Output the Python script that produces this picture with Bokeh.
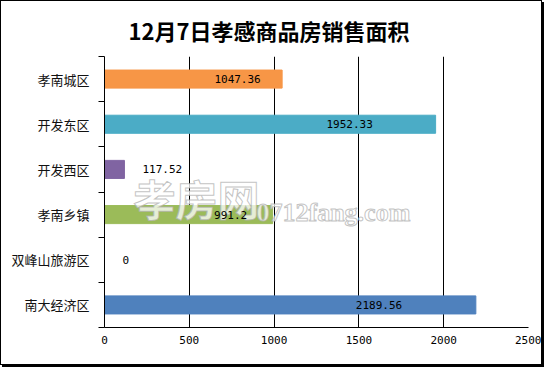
from bokeh.plotting import figure
from bokeh.models import ColumnDataSource, FixedTicker, Label
from bokeh.embed import file_html
from bokeh.resources import INLINE
from bokeh.core.properties import value

title_text = "12月7日孝感商品房销售面积"
categories = ["孝南城区", "开发东区", "开发西区", "孝南乡镇", "双峰山旅游区", "南大经济区"]
areas = [1047.36, 1952.33, 117.52, 991.2, 0, 2189.56]
area_labels = ["1047.36", "1952.33", "117.52", "991.2", "0", "2189.56"]
colors = ["#F79646", "#4BACC6", "#8064A2", "#9BBB59", "#C0504D", "#4F81BD"]
x_ticks = [0, 500, 1000, 1500, 2000, 2500]

n = len(categories)
ys = [n - i - 0.5 for i in range(n)]

src = ColumnDataSource(dict(y=ys, v=areas, c=colors))

p = figure(width=542, height=365, output_backend="svg", toolbar_location=None,
           x_range=(0, 2500), y_range=(0, n),
           min_border_left=103, min_border_right=15, min_border_top=54, min_border_bottom=39)
p.styles = {"border": "1px solid black", "box-shadow": "2px 2px 0 #000"}
p.outline_line_color = None
p.background_fill_color = "white"

p.hbar(y="y", left=0, right="v", height=0.4, color="c", source=src)

# title
p.title.text = title_text
p.title.align = "left"
p.title.offset = 24
p.title.standoff = 21
p.title.text_font = "Noto Sans CJK SC"
p.title.text_font_size = "22px"
p.title.text_font_style = "bold"
p.title.text_color = "black"

# watermark
wm1 = Label(x=29, y=100, x_units="screen", y_units="screen", text="孝房网",
            text_font="Noto Sans CJK SC", text_font_size="42px", text_font_style="bold",
            text_color="white", text_alpha=0.75, text_outline_color="#b0b0b0")
wm2 = Label(x=152, y=115, x_units="screen", y_units="screen", text="0712fang.com",
            text_baseline="alphabetic",
            text_font="Liberation Serif", text_font_size="26px", text_font_style="bold",
            text_color="white", text_alpha=0.75, text_outline_color="#b0b0b0")
p.add_layout(wm1)
p.add_layout(wm2)

# value labels: inside the long bars, just past the end of the short ones
inside = [a > 500 for a in areas]
in_src = ColumnDataSource(dict(
    x=[a * 0.73 + 20 for a, f in zip(areas, inside) if f],
    y=[y for y, f in zip(ys, inside) if f],
    t=[t for t, f in zip(area_labels, inside) if f]))
out_src = ColumnDataSource(dict(
    x=[a for a, f in zip(areas, inside) if not f],
    y=[y for y, f in zip(ys, inside) if not f],
    t=[t for t, f in zip(area_labels, inside) if not f]))

t1 = p.text(x="x", y="y", text="t", source=in_src, text_align="center", text_baseline="middle",
            text_font=value("DejaVu Sans Mono"), text_font_size="11px", text_color="black")
t2 = p.text(x="x", y="y", text="t", source=out_src, text_align="left", text_baseline="middle",
            x_offset=18, text_font=value("DejaVu Sans Mono"), text_font_size="11px", text_color="black")
t1.level = "overlay"
t2.level = "overlay"

# axes
p.xaxis.ticker = FixedTicker(ticks=x_ticks)
p.xaxis.axis_line_color = "black"
p.xaxis.major_tick_out = 0
p.xaxis.major_tick_in = 0
p.xaxis.minor_tick_line_color = None
p.xaxis.major_label_text_font = "DejaVu Sans Mono"
p.xaxis.major_label_text_font_size = "11px"
p.xaxis.major_label_text_color = "black"
p.xaxis.major_label_standoff = 8

p.yaxis.ticker = FixedTicker(ticks=ys, minor_ticks=list(range(n + 1)))
p.yaxis.major_label_overrides = {y: c for y, c in zip(ys, categories)}
p.yaxis.axis_line_color = "black"
p.yaxis.major_tick_out = 0
p.yaxis.major_tick_in = 0
p.yaxis.minor_tick_out = 6
p.yaxis.minor_tick_in = 0
p.yaxis.minor_tick_line_color = "black"
p.yaxis.major_label_text_font = "Noto Sans CJK SC"
p.yaxis.major_label_text_font_size = "13px"
p.yaxis.major_label_text_color = "#111111"
p.yaxis.major_label_standoff = 9

p.xgrid.grid_line_color = "black"
p.xgrid.grid_line_alpha = 1.0
p.ygrid.grid_line_color = None

open("out.html", "w").write(file_html(p, INLINE))
